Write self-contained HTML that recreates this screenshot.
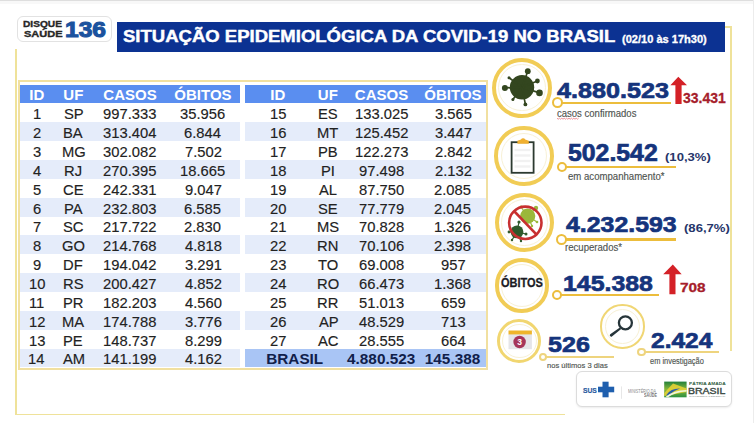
<!DOCTYPE html><html><head><meta charset="utf-8"><style>
html,body{margin:0;padding:0;width:754px;height:423px;overflow:hidden;background:#fff;position:relative}
.t{position:absolute;white-space:nowrap;line-height:1;font-family:"Liberation Sans",sans-serif;transform-origin:0 0}
</style></head><body>
<div style="position:absolute;left:0.00px;top:0.00px;width:754.00px;height:1.00px;background:#dedede"></div>
<div style="position:absolute;left:0.00px;top:1.00px;width:754.00px;height:3.00px;background:#f8f8f8"></div>
<div style="position:absolute;left:752.50px;top:0.00px;width:1.50px;height:423.00px;background:#ececec"></div>
<div style="position:absolute;left:15.00px;top:49.00px;width:2.00px;height:366.00px;background:#efe29a"></div>
<div style="position:absolute;left:15.00px;top:413.50px;width:550.00px;height:1.60px;background:#efe29a"></div>
<div style="position:absolute;left:730.00px;top:26.00px;width:1.80px;height:325.00px;background:#efe29a"></div>
<div style="position:absolute;left:724.00px;top:26.00px;width:7.50px;height:1.60px;background:#efe29a"></div>
<div style="position:absolute;left:17.00px;top:15.50px;width:95.00px;height:26.00px;border:1px solid #e2e2e2;border-radius:6px;box-sizing:border-box;background:#fff"></div>
<div class="t" style="left:23.34px;top:19.00px;font-size:9.43px;font-weight:bold;color:#262626;transform:scaleX(1.0777);-webkit-text-stroke:0.35px #262626;">DISQUE</div>
<div class="t" style="left:23.67px;top:29.00px;font-size:9.43px;font-weight:bold;color:#262626;transform:scaleX(1.1702);-webkit-text-stroke:0.35px #262626;">SAÚDE</div>
<div class="t" style="left:64.92px;top:18.00px;font-size:22.86px;font-weight:bold;color:#1b529e;transform:scaleX(1.0756);-webkit-text-stroke:1.1px #1b529e;">136</div>
<div style="position:absolute;left:117.00px;top:22.00px;width:608.00px;height:30.00px;background:#0c3292"></div>
<div class="t" style="left:122.84px;top:28.00px;font-size:17.14px;font-weight:bold;color:#fff;transform:scaleX(1.0809);-webkit-text-stroke:0.45px #fff;">SITUAÇÃO EPIDEMIOLÓGICA DA COVID-19 NO BRASIL</div>
<div class="t" style="left:621.75px;top:35.00px;font-size:10.00px;font-weight:bold;color:#fff;transform:scaleX(1.1050);-webkit-text-stroke:0.3px #fff;">(02/10 às 17h30)</div>
<div style="position:absolute;left:17.50px;top:80.00px;width:470.00px;height:290.00px;border:2px solid #f1e0a0;box-sizing:border-box;background:#fff"></div>
<div style="position:absolute;left:20.00px;top:85.00px;width:220.00px;height:18.40px;background:#5a8ef0"></div>
<div style="position:absolute;left:245.00px;top:85.00px;width:241.00px;height:18.40px;background:#5a8ef0"></div>
<div style="position:absolute;left:20.00px;top:122.26px;width:220.00px;height:18.86px;background:#e5ecfa"></div>
<div style="position:absolute;left:245.00px;top:122.26px;width:241.00px;height:18.86px;background:#e5ecfa"></div>
<div style="position:absolute;left:20.00px;top:159.98px;width:220.00px;height:18.86px;background:#e5ecfa"></div>
<div style="position:absolute;left:245.00px;top:159.98px;width:241.00px;height:18.86px;background:#e5ecfa"></div>
<div style="position:absolute;left:20.00px;top:197.70px;width:220.00px;height:18.86px;background:#e5ecfa"></div>
<div style="position:absolute;left:245.00px;top:197.70px;width:241.00px;height:18.86px;background:#e5ecfa"></div>
<div style="position:absolute;left:20.00px;top:235.42px;width:220.00px;height:18.86px;background:#e5ecfa"></div>
<div style="position:absolute;left:245.00px;top:235.42px;width:241.00px;height:18.86px;background:#e5ecfa"></div>
<div style="position:absolute;left:20.00px;top:273.14px;width:220.00px;height:18.86px;background:#e5ecfa"></div>
<div style="position:absolute;left:245.00px;top:273.14px;width:241.00px;height:18.86px;background:#e5ecfa"></div>
<div style="position:absolute;left:20.00px;top:310.86px;width:220.00px;height:18.86px;background:#e5ecfa"></div>
<div style="position:absolute;left:245.00px;top:310.86px;width:241.00px;height:18.86px;background:#e5ecfa"></div>
<div style="position:absolute;left:20.00px;top:348.58px;width:220.00px;height:18.86px;background:#e5ecfa"></div>
<div style="position:absolute;left:245.00px;top:348.58px;width:241.00px;height:18.86px;background:#a9c5f5"></div>
<div class="t" style="left:32.68px;top:106.00px;font-size:15.30px;font-weight:normal;color:#222;transform:scaleX(0.965);-webkit-text-stroke:0.15px #222;">1</div>
<div class="t" style="left:63.72px;top:106.00px;font-size:15.30px;font-weight:normal;color:#222;transform:scaleX(0.965);-webkit-text-stroke:0.15px #222;">SP</div>
<div class="t" style="left:103.28px;top:106.00px;font-size:15.30px;font-weight:normal;color:#222;transform:scaleX(0.965);-webkit-text-stroke:0.15px #222;">997.333</div>
<div class="t" style="left:180.41px;top:106.00px;font-size:15.30px;font-weight:normal;color:#222;transform:scaleX(0.965);-webkit-text-stroke:0.15px #222;">35.956</div>
<div class="t" style="left:32.90px;top:125.00px;font-size:15.30px;font-weight:normal;color:#222;transform:scaleX(0.965);-webkit-text-stroke:0.15px #222;">2</div>
<div class="t" style="left:63.09px;top:125.00px;font-size:15.30px;font-weight:normal;color:#222;transform:scaleX(0.965);-webkit-text-stroke:0.15px #222;">BA</div>
<div class="t" style="left:103.24px;top:125.00px;font-size:15.30px;font-weight:normal;color:#222;transform:scaleX(0.965);-webkit-text-stroke:0.15px #222;">313.404</div>
<div class="t" style="left:184.40px;top:125.00px;font-size:15.30px;font-weight:normal;color:#222;transform:scaleX(0.965);-webkit-text-stroke:0.15px #222;">6.844</div>
<div class="t" style="left:32.90px;top:144.00px;font-size:15.30px;font-weight:normal;color:#222;transform:scaleX(0.965);-webkit-text-stroke:0.15px #222;">3</div>
<div class="t" style="left:61.54px;top:144.00px;font-size:15.30px;font-weight:normal;color:#222;transform:scaleX(0.965);-webkit-text-stroke:0.15px #222;">MG</div>
<div class="t" style="left:103.39px;top:144.00px;font-size:15.30px;font-weight:normal;color:#222;transform:scaleX(0.965);-webkit-text-stroke:0.15px #222;">302.082</div>
<div class="t" style="left:184.54px;top:144.00px;font-size:15.30px;font-weight:normal;color:#222;transform:scaleX(0.965);-webkit-text-stroke:0.15px #222;">7.502</div>
<div class="t" style="left:32.98px;top:163.00px;font-size:15.30px;font-weight:normal;color:#222;transform:scaleX(0.965);-webkit-text-stroke:0.15px #222;">4</div>
<div class="t" style="left:64.46px;top:163.00px;font-size:15.30px;font-weight:normal;color:#222;transform:scaleX(0.965);-webkit-text-stroke:0.15px #222;">RJ</div>
<div class="t" style="left:103.24px;top:163.00px;font-size:15.30px;font-weight:normal;color:#222;transform:scaleX(0.965);-webkit-text-stroke:0.15px #222;">270.395</div>
<div class="t" style="left:180.15px;top:163.00px;font-size:15.30px;font-weight:normal;color:#222;transform:scaleX(0.965);-webkit-text-stroke:0.15px #222;">18.665</div>
<div class="t" style="left:32.90px;top:182.00px;font-size:15.30px;font-weight:normal;color:#222;transform:scaleX(0.965);-webkit-text-stroke:0.15px #222;">5</div>
<div class="t" style="left:63.20px;top:182.00px;font-size:15.30px;font-weight:normal;color:#222;transform:scaleX(0.965);-webkit-text-stroke:0.15px #222;">CE</div>
<div class="t" style="left:103.28px;top:182.00px;font-size:15.30px;font-weight:normal;color:#222;transform:scaleX(0.965);-webkit-text-stroke:0.15px #222;">242.331</div>
<div class="t" style="left:184.58px;top:182.00px;font-size:15.30px;font-weight:normal;color:#222;transform:scaleX(0.965);-webkit-text-stroke:0.15px #222;">9.047</div>
<div class="t" style="left:32.83px;top:201.00px;font-size:15.30px;font-weight:normal;color:#222;transform:scaleX(0.965);-webkit-text-stroke:0.15px #222;">6</div>
<div class="t" style="left:63.61px;top:201.00px;font-size:15.30px;font-weight:normal;color:#222;transform:scaleX(0.965);-webkit-text-stroke:0.15px #222;">PA</div>
<div class="t" style="left:103.24px;top:201.00px;font-size:15.30px;font-weight:normal;color:#222;transform:scaleX(0.965);-webkit-text-stroke:0.15px #222;">232.803</div>
<div class="t" style="left:184.47px;top:201.00px;font-size:15.30px;font-weight:normal;color:#222;transform:scaleX(0.965);-webkit-text-stroke:0.15px #222;">6.585</div>
<div class="t" style="left:32.90px;top:219.00px;font-size:15.30px;font-weight:normal;color:#222;transform:scaleX(0.965);-webkit-text-stroke:0.15px #222;">7</div>
<div class="t" style="left:63.20px;top:219.00px;font-size:15.30px;font-weight:normal;color:#222;transform:scaleX(0.965);-webkit-text-stroke:0.15px #222;">SC</div>
<div class="t" style="left:103.31px;top:219.00px;font-size:15.30px;font-weight:normal;color:#222;transform:scaleX(0.965);-webkit-text-stroke:0.15px #222;">217.722</div>
<div class="t" style="left:184.43px;top:219.00px;font-size:15.30px;font-weight:normal;color:#222;transform:scaleX(0.965);-webkit-text-stroke:0.15px #222;">2.830</div>
<div class="t" style="left:32.87px;top:238.00px;font-size:15.30px;font-weight:normal;color:#222;transform:scaleX(0.965);-webkit-text-stroke:0.15px #222;">8</div>
<div class="t" style="left:61.98px;top:238.00px;font-size:15.30px;font-weight:normal;color:#222;transform:scaleX(0.965);-webkit-text-stroke:0.15px #222;">GO</div>
<div class="t" style="left:103.24px;top:238.00px;font-size:15.30px;font-weight:normal;color:#222;transform:scaleX(0.965);-webkit-text-stroke:0.15px #222;">214.768</div>
<div class="t" style="left:184.69px;top:238.00px;font-size:15.30px;font-weight:normal;color:#222;transform:scaleX(0.965);-webkit-text-stroke:0.15px #222;">4.818</div>
<div class="t" style="left:32.90px;top:257.00px;font-size:15.30px;font-weight:normal;color:#222;transform:scaleX(0.965);-webkit-text-stroke:0.15px #222;">9</div>
<div class="t" style="left:63.39px;top:257.00px;font-size:15.30px;font-weight:normal;color:#222;transform:scaleX(0.965);-webkit-text-stroke:0.15px #222;">DF</div>
<div class="t" style="left:103.13px;top:257.00px;font-size:15.30px;font-weight:normal;color:#222;transform:scaleX(0.965);-webkit-text-stroke:0.15px #222;">194.042</div>
<div class="t" style="left:184.58px;top:257.00px;font-size:15.30px;font-weight:normal;color:#222;transform:scaleX(0.965);-webkit-text-stroke:0.15px #222;">3.291</div>
<div class="t" style="left:28.51px;top:276.00px;font-size:15.30px;font-weight:normal;color:#222;transform:scaleX(0.965);-webkit-text-stroke:0.15px #222;">10</div>
<div class="t" style="left:63.02px;top:276.00px;font-size:15.30px;font-weight:normal;color:#222;transform:scaleX(0.965);-webkit-text-stroke:0.15px #222;">RS</div>
<div class="t" style="left:103.31px;top:276.00px;font-size:15.30px;font-weight:normal;color:#222;transform:scaleX(0.965);-webkit-text-stroke:0.15px #222;">200.427</div>
<div class="t" style="left:184.77px;top:276.00px;font-size:15.30px;font-weight:normal;color:#222;transform:scaleX(0.965);-webkit-text-stroke:0.15px #222;">4.852</div>
<div class="t" style="left:29.14px;top:295.00px;font-size:15.30px;font-weight:normal;color:#222;transform:scaleX(0.965);-webkit-text-stroke:0.15px #222;">11</div>
<div class="t" style="left:63.02px;top:295.00px;font-size:15.30px;font-weight:normal;color:#222;transform:scaleX(0.965);-webkit-text-stroke:0.15px #222;">PR</div>
<div class="t" style="left:103.05px;top:295.00px;font-size:15.30px;font-weight:normal;color:#222;transform:scaleX(0.965);-webkit-text-stroke:0.15px #222;">182.203</div>
<div class="t" style="left:184.66px;top:295.00px;font-size:15.30px;font-weight:normal;color:#222;transform:scaleX(0.965);-webkit-text-stroke:0.15px #222;">4.560</div>
<div class="t" style="left:28.62px;top:314.00px;font-size:15.30px;font-weight:normal;color:#222;transform:scaleX(0.965);-webkit-text-stroke:0.15px #222;">12</div>
<div class="t" style="left:61.84px;top:314.00px;font-size:15.30px;font-weight:normal;color:#222;transform:scaleX(0.965);-webkit-text-stroke:0.15px #222;">MA</div>
<div class="t" style="left:103.05px;top:314.00px;font-size:15.30px;font-weight:normal;color:#222;transform:scaleX(0.965);-webkit-text-stroke:0.15px #222;">174.788</div>
<div class="t" style="left:184.54px;top:314.00px;font-size:15.30px;font-weight:normal;color:#222;transform:scaleX(0.965);-webkit-text-stroke:0.15px #222;">3.776</div>
<div class="t" style="left:28.55px;top:333.00px;font-size:15.30px;font-weight:normal;color:#222;transform:scaleX(0.965);-webkit-text-stroke:0.15px #222;">13</div>
<div class="t" style="left:63.39px;top:333.00px;font-size:15.30px;font-weight:normal;color:#222;transform:scaleX(0.965);-webkit-text-stroke:0.15px #222;">PE</div>
<div class="t" style="left:103.13px;top:333.00px;font-size:15.30px;font-weight:normal;color:#222;transform:scaleX(0.965);-webkit-text-stroke:0.15px #222;">148.737</div>
<div class="t" style="left:184.54px;top:333.00px;font-size:15.30px;font-weight:normal;color:#222;transform:scaleX(0.965);-webkit-text-stroke:0.15px #222;">8.299</div>
<div class="t" style="left:28.47px;top:351.00px;font-size:15.30px;font-weight:normal;color:#222;transform:scaleX(0.965);-webkit-text-stroke:0.15px #222;">14</div>
<div class="t" style="left:63.05px;top:351.00px;font-size:15.30px;font-weight:normal;color:#222;transform:scaleX(0.965);-webkit-text-stroke:0.15px #222;">AM</div>
<div class="t" style="left:103.09px;top:351.00px;font-size:15.30px;font-weight:normal;color:#222;transform:scaleX(0.965);-webkit-text-stroke:0.15px #222;">141.199</div>
<div class="t" style="left:184.77px;top:351.00px;font-size:15.30px;font-weight:normal;color:#222;transform:scaleX(0.965);-webkit-text-stroke:0.15px #222;">4.162</div>
<div class="t" style="left:269.55px;top:106.00px;font-size:15.30px;font-weight:normal;color:#222;transform:scaleX(0.965);-webkit-text-stroke:0.15px #222;">15</div>
<div class="t" style="left:317.92px;top:106.00px;font-size:15.30px;font-weight:normal;color:#222;transform:scaleX(0.965);-webkit-text-stroke:0.15px #222;">ES</div>
<div class="t" style="left:354.55px;top:106.00px;font-size:15.30px;font-weight:normal;color:#222;transform:scaleX(0.965);-webkit-text-stroke:0.15px #222;">133.025</div>
<div class="t" style="left:434.54px;top:106.00px;font-size:15.30px;font-weight:normal;color:#222;transform:scaleX(0.965);-webkit-text-stroke:0.15px #222;">3.565</div>
<div class="t" style="left:269.55px;top:125.00px;font-size:15.30px;font-weight:normal;color:#222;transform:scaleX(0.965);-webkit-text-stroke:0.15px #222;">16</div>
<div class="t" style="left:316.89px;top:125.00px;font-size:15.30px;font-weight:normal;color:#222;transform:scaleX(0.965);-webkit-text-stroke:0.15px #222;">MT</div>
<div class="t" style="left:354.63px;top:125.00px;font-size:15.30px;font-weight:normal;color:#222;transform:scaleX(0.965);-webkit-text-stroke:0.15px #222;">125.452</div>
<div class="t" style="left:434.62px;top:125.00px;font-size:15.30px;font-weight:normal;color:#222;transform:scaleX(0.965);-webkit-text-stroke:0.15px #222;">3.447</div>
<div class="t" style="left:269.62px;top:144.00px;font-size:15.30px;font-weight:normal;color:#222;transform:scaleX(0.965);-webkit-text-stroke:0.15px #222;">17</div>
<div class="t" style="left:317.96px;top:144.00px;font-size:15.30px;font-weight:normal;color:#222;transform:scaleX(0.965);-webkit-text-stroke:0.15px #222;">PB</div>
<div class="t" style="left:354.55px;top:144.00px;font-size:15.30px;font-weight:normal;color:#222;transform:scaleX(0.965);-webkit-text-stroke:0.15px #222;">122.273</div>
<div class="t" style="left:434.54px;top:144.00px;font-size:15.30px;font-weight:normal;color:#222;transform:scaleX(0.965);-webkit-text-stroke:0.15px #222;">2.842</div>
<div class="t" style="left:269.55px;top:163.00px;font-size:15.30px;font-weight:normal;color:#222;transform:scaleX(0.965);-webkit-text-stroke:0.15px #222;">18</div>
<div class="t" style="left:321.13px;top:163.00px;font-size:15.30px;font-weight:normal;color:#222;transform:scaleX(0.965);-webkit-text-stroke:0.15px #222;">PI</div>
<div class="t" style="left:358.87px;top:163.00px;font-size:15.30px;font-weight:normal;color:#222;transform:scaleX(0.965);-webkit-text-stroke:0.15px #222;">97.498</div>
<div class="t" style="left:434.54px;top:163.00px;font-size:15.30px;font-weight:normal;color:#222;transform:scaleX(0.965);-webkit-text-stroke:0.15px #222;">2.132</div>
<div class="t" style="left:269.58px;top:182.00px;font-size:15.30px;font-weight:normal;color:#222;transform:scaleX(0.965);-webkit-text-stroke:0.15px #222;">19</div>
<div class="t" style="left:319.22px;top:182.00px;font-size:15.30px;font-weight:normal;color:#222;transform:scaleX(0.965);-webkit-text-stroke:0.15px #222;">AL</div>
<div class="t" style="left:358.84px;top:182.00px;font-size:15.30px;font-weight:normal;color:#222;transform:scaleX(0.965);-webkit-text-stroke:0.15px #222;">87.750</div>
<div class="t" style="left:434.47px;top:182.00px;font-size:15.30px;font-weight:normal;color:#222;transform:scaleX(0.965);-webkit-text-stroke:0.15px #222;">2.085</div>
<div class="t" style="left:269.69px;top:201.00px;font-size:15.30px;font-weight:normal;color:#222;transform:scaleX(0.965);-webkit-text-stroke:0.15px #222;">20</div>
<div class="t" style="left:318.14px;top:201.00px;font-size:15.30px;font-weight:normal;color:#222;transform:scaleX(0.965);-webkit-text-stroke:0.15px #222;">SE</div>
<div class="t" style="left:358.87px;top:201.00px;font-size:15.30px;font-weight:normal;color:#222;transform:scaleX(0.965);-webkit-text-stroke:0.15px #222;">77.779</div>
<div class="t" style="left:434.47px;top:201.00px;font-size:15.30px;font-weight:normal;color:#222;transform:scaleX(0.965);-webkit-text-stroke:0.15px #222;">2.045</div>
<div class="t" style="left:269.77px;top:219.00px;font-size:15.30px;font-weight:normal;color:#222;transform:scaleX(0.965);-webkit-text-stroke:0.15px #222;">21</div>
<div class="t" style="left:316.67px;top:219.00px;font-size:15.30px;font-weight:normal;color:#222;transform:scaleX(0.965);-webkit-text-stroke:0.15px #222;">MS</div>
<div class="t" style="left:358.84px;top:219.00px;font-size:15.30px;font-weight:normal;color:#222;transform:scaleX(0.965);-webkit-text-stroke:0.15px #222;">70.828</div>
<div class="t" style="left:434.29px;top:219.00px;font-size:15.30px;font-weight:normal;color:#222;transform:scaleX(0.965);-webkit-text-stroke:0.15px #222;">1.326</div>
<div class="t" style="left:269.81px;top:238.00px;font-size:15.30px;font-weight:normal;color:#222;transform:scaleX(0.965);-webkit-text-stroke:0.15px #222;">22</div>
<div class="t" style="left:317.37px;top:238.00px;font-size:15.30px;font-weight:normal;color:#222;transform:scaleX(0.965);-webkit-text-stroke:0.15px #222;">RN</div>
<div class="t" style="left:358.84px;top:238.00px;font-size:15.30px;font-weight:normal;color:#222;transform:scaleX(0.965);-webkit-text-stroke:0.15px #222;">70.106</div>
<div class="t" style="left:434.47px;top:238.00px;font-size:15.30px;font-weight:normal;color:#222;transform:scaleX(0.965);-webkit-text-stroke:0.15px #222;">2.398</div>
<div class="t" style="left:269.73px;top:257.00px;font-size:15.30px;font-weight:normal;color:#222;transform:scaleX(0.965);-webkit-text-stroke:0.15px #222;">23</div>
<div class="t" style="left:318.07px;top:257.00px;font-size:15.30px;font-weight:normal;color:#222;transform:scaleX(0.965);-webkit-text-stroke:0.15px #222;">TO</div>
<div class="t" style="left:358.84px;top:257.00px;font-size:15.30px;font-weight:normal;color:#222;transform:scaleX(0.965);-webkit-text-stroke:0.15px #222;">69.008</div>
<div class="t" style="left:440.75px;top:257.00px;font-size:15.30px;font-weight:normal;color:#222;transform:scaleX(0.965);-webkit-text-stroke:0.15px #222;">957</div>
<div class="t" style="left:269.66px;top:276.00px;font-size:15.30px;font-weight:normal;color:#222;transform:scaleX(0.965);-webkit-text-stroke:0.15px #222;">24</div>
<div class="t" style="left:316.71px;top:276.00px;font-size:15.30px;font-weight:normal;color:#222;transform:scaleX(0.965);-webkit-text-stroke:0.15px #222;">RO</div>
<div class="t" style="left:358.84px;top:276.00px;font-size:15.30px;font-weight:normal;color:#222;transform:scaleX(0.965);-webkit-text-stroke:0.15px #222;">66.473</div>
<div class="t" style="left:434.29px;top:276.00px;font-size:15.30px;font-weight:normal;color:#222;transform:scaleX(0.965);-webkit-text-stroke:0.15px #222;">1.368</div>
<div class="t" style="left:269.73px;top:295.00px;font-size:15.30px;font-weight:normal;color:#222;transform:scaleX(0.965);-webkit-text-stroke:0.15px #222;">25</div>
<div class="t" style="left:317.11px;top:295.00px;font-size:15.30px;font-weight:normal;color:#222;transform:scaleX(0.965);-webkit-text-stroke:0.15px #222;">RR</div>
<div class="t" style="left:358.91px;top:295.00px;font-size:15.30px;font-weight:normal;color:#222;transform:scaleX(0.965);-webkit-text-stroke:0.15px #222;">51.013</div>
<div class="t" style="left:440.67px;top:295.00px;font-size:15.30px;font-weight:normal;color:#222;transform:scaleX(0.965);-webkit-text-stroke:0.15px #222;">659</div>
<div class="t" style="left:269.73px;top:314.00px;font-size:15.30px;font-weight:normal;color:#222;transform:scaleX(0.965);-webkit-text-stroke:0.15px #222;">26</div>
<div class="t" style="left:318.55px;top:314.00px;font-size:15.30px;font-weight:normal;color:#222;transform:scaleX(0.965);-webkit-text-stroke:0.15px #222;">AP</div>
<div class="t" style="left:359.09px;top:314.00px;font-size:15.30px;font-weight:normal;color:#222;transform:scaleX(0.965);-webkit-text-stroke:0.15px #222;">48.529</div>
<div class="t" style="left:440.63px;top:314.00px;font-size:15.30px;font-weight:normal;color:#222;transform:scaleX(0.965);-webkit-text-stroke:0.15px #222;">713</div>
<div class="t" style="left:269.81px;top:333.00px;font-size:15.30px;font-weight:normal;color:#222;transform:scaleX(0.965);-webkit-text-stroke:0.15px #222;">27</div>
<div class="t" style="left:318.03px;top:333.00px;font-size:15.30px;font-weight:normal;color:#222;transform:scaleX(0.965);-webkit-text-stroke:0.15px #222;">AC</div>
<div class="t" style="left:358.84px;top:333.00px;font-size:15.30px;font-weight:normal;color:#222;transform:scaleX(0.965);-webkit-text-stroke:0.15px #222;">28.555</div>
<div class="t" style="left:440.56px;top:333.00px;font-size:15.30px;font-weight:normal;color:#222;transform:scaleX(0.965);-webkit-text-stroke:0.15px #222;">664</div>
<div class="t" style="left:266.27px;top:351.00px;font-size:15.30px;font-weight:bold;color:#10204a;">BRASIL</div>
<div class="t" style="left:347.11px;top:351.00px;font-size:15.30px;font-weight:bold;color:#10204a;">4.880.523</div>
<div class="t" style="left:424.87px;top:351.00px;font-size:15.30px;font-weight:bold;color:#10204a;">145.388</div>
<div class="t" style="left:29.31px;top:87.00px;font-size:15.00px;font-weight:bold;color:#fff;">ID</div>
<div class="t" style="left:63.34px;top:87.00px;font-size:15.00px;font-weight:bold;color:#fff;">UF</div>
<div class="t" style="left:103.30px;top:87.00px;font-size:15.00px;font-weight:bold;color:#fff;">CASOS</div>
<div class="t" style="left:174.35px;top:87.00px;font-size:15.00px;font-weight:bold;color:#fff;">ÓBITOS</div>
<div class="t" style="left:270.31px;top:87.00px;font-size:15.00px;font-weight:bold;color:#fff;">ID</div>
<div class="t" style="left:317.84px;top:87.00px;font-size:15.00px;font-weight:bold;color:#fff;">UF</div>
<div class="t" style="left:354.80px;top:87.00px;font-size:15.00px;font-weight:bold;color:#fff;">CASOS</div>
<div class="t" style="left:424.35px;top:87.00px;font-size:15.00px;font-weight:bold;color:#fff;">ÓBITOS</div>
<div style="position:absolute;left:492.00px;top:57.70px;width:60.00px;height:60.00px;border:4.8px solid #f1cc55;border-radius:50%;box-sizing:border-box;background:#fff;"></div>
<div style="position:absolute;left:498.40px;top:64.10px;width:47.20px;height:47.20px;border:1px solid #f8f1d6;border-radius:50%;box-sizing:border-box;"></div>
<div style="position:absolute;left:494.25px;top:126.25px;width:59.50px;height:59.50px;border:4.8px solid #f1cc55;border-radius:50%;box-sizing:border-box;background:#fff;"></div>
<div style="position:absolute;left:500.65px;top:132.65px;width:46.70px;height:46.70px;border:1px solid #f8f1d6;border-radius:50%;box-sizing:border-box;"></div>
<div style="position:absolute;left:495.20px;top:193.00px;width:59.00px;height:59.00px;border:4.6px solid #f1cc55;border-radius:50%;box-sizing:border-box;background:#fff;"></div>
<div style="position:absolute;left:501.40px;top:199.20px;width:46.60px;height:46.60px;border:1px solid #f8f1d6;border-radius:50%;box-sizing:border-box;"></div>
<div style="position:absolute;left:494.55px;top:258.25px;width:54.50px;height:54.50px;border:4.4px solid #f1cc55;border-radius:50%;box-sizing:border-box;background:#fff;"></div>
<div style="position:absolute;left:500.55px;top:264.25px;width:42.50px;height:42.50px;border:1px solid #f8f1d6;border-radius:50%;box-sizing:border-box;"></div>
<div style="position:absolute;left:497.20px;top:319.00px;width:44.00px;height:44.00px;border:3px solid #f1d670;border-radius:50%;box-sizing:border-box;background:#fff;"></div>
<div style="position:absolute;left:501.80px;top:323.60px;width:34.80px;height:34.80px;border:1px solid #f8f1d6;border-radius:50%;box-sizing:border-box;"></div>
<div style="position:absolute;left:600.35px;top:304.35px;width:44.30px;height:44.30px;border:2.9px solid #f0d674;border-radius:50%;box-sizing:border-box;background:#fff;"></div>
<div style="position:absolute;left:604.85px;top:308.85px;width:35.30px;height:35.30px;border:1px solid #f8f1d6;border-radius:50%;box-sizing:border-box;"></div>
<div style="position:absolute;left:557.70px;top:101.60px;width:113.80px;height:2.60px;background:#ecbd3c"></div>
<div style="position:absolute;left:552.20px;top:97.40px;width:11.00px;height:11.00px;border:2.5px solid #ecbd3c;border-radius:50%;box-sizing:border-box;background:#fff"></div>
<div style="position:absolute;left:562.00px;top:165.50px;width:114.20px;height:2.60px;background:#ecbd3c"></div>
<div style="position:absolute;left:556.80px;top:161.60px;width:10.40px;height:10.40px;border:2.5px solid #ecbd3c;border-radius:50%;box-sizing:border-box;background:#fff"></div>
<div style="position:absolute;left:561.60px;top:238.00px;width:114.70px;height:2.60px;background:#ecbd3c"></div>
<div style="position:absolute;left:556.10px;top:233.80px;width:11.00px;height:11.00px;border:2.5px solid #ecbd3c;border-radius:50%;box-sizing:border-box;background:#fff"></div>
<div style="position:absolute;left:557.20px;top:293.50px;width:101.80px;height:2.20px;background:#ecbd3c"></div>
<div style="position:absolute;left:552.20px;top:289.60px;width:10.00px;height:10.00px;border:2.3px solid #ecbd3c;border-radius:50%;box-sizing:border-box;background:#fff"></div>
<div style="position:absolute;left:543.10px;top:356.30px;width:70.70px;height:2.00px;background:#eed47e"></div>
<div style="position:absolute;left:538.90px;top:353.10px;width:8.40px;height:8.40px;border:2.2px solid #eed47e;border-radius:50%;box-sizing:border-box;background:#fff"></div>
<div style="position:absolute;left:641.40px;top:351.20px;width:78.10px;height:2.00px;background:#eed47e"></div>
<div style="position:absolute;left:637.20px;top:348.00px;width:8.40px;height:8.40px;border:2.2px solid #eed47e;border-radius:50%;box-sizing:border-box;background:#fff"></div>
<div class="t" style="left:557.02px;top:80.00px;font-size:22.43px;font-weight:bold;color:#15347c;transform:scaleX(1.1217);-webkit-text-stroke:0.7px #15347c;">4.880.523</div>
<div class="t" style="left:568.46px;top:142.00px;font-size:23.00px;font-weight:bold;color:#15347c;transform:scaleX(1.0793);-webkit-text-stroke:0.7px #15347c;">502.542</div>
<div class="t" style="left:566.23px;top:213.00px;font-size:22.71px;font-weight:bold;color:#15347c;transform:scaleX(1.0956);-webkit-text-stroke:0.7px #15347c;">4.232.593</div>
<div class="t" style="left:562.71px;top:272.00px;font-size:22.71px;font-weight:bold;color:#15347c;transform:scaleX(1.0953);-webkit-text-stroke:0.7px #15347c;">145.388</div>
<div class="t" style="left:548.05px;top:333.00px;font-size:22.86px;font-weight:bold;color:#15347c;transform:scaleX(1.0965);-webkit-text-stroke:0.7px #15347c;">526</div>
<div class="t" style="left:651.24px;top:329.00px;font-size:22.71px;font-weight:bold;color:#15347c;transform:scaleX(1.0809);-webkit-text-stroke:0.7px #15347c;">2.424</div>
<div class="t" style="left:664.65px;top:152.00px;font-size:11.14px;font-weight:bold;color:#26356a;transform:scaleX(1.1755);">(10,3%)</div>
<div class="t" style="left:683.85px;top:222.00px;font-size:11.71px;font-weight:bold;color:#26356a;transform:scaleX(1.1182);">(86,7%)</div>
<div class="t" style="left:683.25px;top:91.00px;font-size:14.86px;font-weight:bold;color:#a61d2b;transform:scaleX(0.9392);-webkit-text-stroke:0.3px #a61d2b;">33.431</div>
<div class="t" style="left:680.39px;top:282.00px;font-size:12.86px;font-weight:bold;color:#a61d2b;transform:scaleX(1.1947);-webkit-text-stroke:0.3px #a61d2b;">708</div>
<div class="t" style="left:556.82px;top:109.00px;font-size:10.19px;font-weight:normal;color:#4f5551;transform:scaleX(0.9363);-webkit-text-stroke:0.15px #4f5551;">casos confirmados</div>
<div class="t" style="left:567.62px;top:172.00px;font-size:10.19px;font-weight:normal;color:#4f5551;transform:scaleX(0.9432);-webkit-text-stroke:0.15px #4f5551;">em acompanhamento*</div>
<div class="t" style="left:565.48px;top:243.00px;font-size:10.00px;font-weight:normal;color:#4f5551;transform:scaleX(0.9591);-webkit-text-stroke:0.15px #4f5551;">recuperados*</div>
<div class="t" style="left:547.01px;top:362.00px;font-size:7.92px;font-weight:normal;color:#4f5551;transform:scaleX(0.9594);-webkit-text-stroke:0.15px #4f5551;">nos últimos 3 dias</div>
<div class="t" style="left:650.40px;top:357.00px;font-size:9.06px;font-weight:normal;color:#4f5551;transform:scaleX(0.8237);-webkit-text-stroke:0.15px #4f5551;">em investigação</div>
<div class="t" style="left:500.76px;top:277.00px;font-size:12.86px;font-weight:bold;color:#1b1b24;transform:scaleX(0.8526);-webkit-text-stroke:0.3px #1b1b24;">ÓBITOS</div>
<svg style="position:absolute;left:0;top:0" width="754" height="423" viewBox="0 0 754 423"><circle cx="522" cy="87.3" r="12.2" fill="#33461f"/><line x1="522" y1="87.3" x2="527.8" y2="71.2" stroke="#33461f" stroke-width="1.7"/><circle cx="527.8" cy="71.2" r="2.9" fill="#33461f"/><line x1="522" y1="87.3" x2="509" y2="77.8" stroke="#33461f" stroke-width="1.7"/><circle cx="509" cy="77.8" r="1.5" fill="#33461f"/><line x1="522" y1="87.3" x2="504.9" y2="87.9" stroke="#33461f" stroke-width="1.7"/><circle cx="504.9" cy="87.9" r="3.0" fill="#33461f"/><line x1="522" y1="87.3" x2="537.4" y2="81" stroke="#33461f" stroke-width="1.7"/><circle cx="537.4" cy="81" r="2.4" fill="#33461f"/><line x1="522" y1="87.3" x2="539.5" y2="92.9" stroke="#33461f" stroke-width="1.7"/><circle cx="539.5" cy="92.9" r="3.3" fill="#33461f"/><line x1="522" y1="87.3" x2="525.4" y2="104.4" stroke="#33461f" stroke-width="1.7"/><circle cx="525.4" cy="104.4" r="1.9" fill="#33461f"/><line x1="522" y1="87.3" x2="512.9" y2="99.6" stroke="#33461f" stroke-width="1.7"/><circle cx="512.9" cy="99.6" r="1.5" fill="#33461f"/><path d="M557 118.2 l1.2 1 l1.2 -1 l1.2 1 l1.2 -1 l1.2 1 l1.2 -1 l1.2 1 l1.2 -1 l1.2 1 l1.2 -1 l1.2 1 l1.2 -1 l1.2 1 l1.2 -1 l1.2 1 l1.2 -1 l1.2 1 l1.2 -1" fill="none" stroke="#e0606a" stroke-width="0.7"/><path d="M678.3 76.8 L687 85.3 L681.6 85.3 L681.6 104 L675.4 104 L675.4 85.3 L670.4 85.3 Z" fill="#d42127"/><path d="M672.8 264.4 L681.7 274.3 L675.5 274.3 L675.5 294.2 L669.4 294.2 L669.4 274.3 L663.2 274.3 Z" fill="#d42127"/><rect x="511.6" y="142.2" width="22" height="30.6" fill="#fff" stroke="#2c3a30" stroke-width="1.8"/><line x1="514.5" y1="150" x2="530.5" y2="150" stroke="#f1f1f1" stroke-width="2.4"/><line x1="514.5" y1="155.5" x2="530.5" y2="155.5" stroke="#f1f1f1" stroke-width="2.4"/><line x1="514.5" y1="161" x2="530.5" y2="161" stroke="#f1f1f1" stroke-width="2.4"/><line x1="514.5" y1="166.5" x2="530.5" y2="166.5" stroke="#f1f1f1" stroke-width="2.4"/><path d="M517.4 143.8 L528.8 143.8 L528.8 140.8 L525.2 139.6 A2.3 2.3 0 0 0 521 139.6 L517.4 140.8 Z" fill="#f0b030"/><circle cx="527.7" cy="216.1" r="7.6" fill="#9bb83b"/><line x1="527.7" y1="216.1" x2="536" y2="208" stroke="#9bb83b" stroke-width="1.2"/><circle cx="536" cy="208" r="2.2" fill="#9bb83b"/><line x1="527.7" y1="216.1" x2="521" y2="207" stroke="#9bb83b" stroke-width="1.2"/><circle cx="521" cy="207" r="1.4" fill="#9bb83b"/><line x1="527.7" y1="216.1" x2="537" y2="222" stroke="#9bb83b" stroke-width="1.2"/><circle cx="537" cy="222" r="1.3" fill="#9bb83b"/><line x1="527.7" y1="216.1" x2="532" y2="226" stroke="#9bb83b" stroke-width="1.2"/><circle cx="532" cy="226" r="1.2" fill="#9bb83b"/><circle cx="517" cy="231.9" r="6.4" fill="#2f5a2c"/><line x1="517" y1="231.9" x2="509" y2="232" stroke="#2f5a2c" stroke-width="1.2"/><circle cx="509" cy="232" r="1.4" fill="#2f5a2c"/><line x1="517" y1="231.9" x2="519" y2="222" stroke="#2f5a2c" stroke-width="1.2"/><circle cx="519" cy="222" r="1.6" fill="#2f5a2c"/><line x1="517" y1="231.9" x2="526" y2="234" stroke="#2f5a2c" stroke-width="1.2"/><circle cx="526" cy="234" r="1.5" fill="#2f5a2c"/><line x1="517" y1="231.9" x2="512" y2="240" stroke="#2f5a2c" stroke-width="1.2"/><circle cx="512" cy="240" r="1.2" fill="#2f5a2c"/><line x1="517" y1="231.9" x2="521" y2="241" stroke="#2f5a2c" stroke-width="1.2"/><circle cx="521" cy="241" r="1.2" fill="#2f5a2c"/><circle cx="525.3" cy="222.8" r="16.2" fill="none" stroke="#c83030" stroke-width="2.6"/><line x1="514" y1="211" x2="536.6" y2="234.6" stroke="#c83030" stroke-width="2.6"/><rect x="508.5" y="334" width="23.4" height="15.2" fill="#e5e5e8"/><rect x="508.5" y="330.5" width="23.4" height="3.9" fill="#efb52c"/><circle cx="519.6" cy="342" r="6.2" fill="#a6355a"/><text x="519.7" y="345.2" font-family="Liberation Sans" font-weight="bold" font-size="8.5" fill="#fff" text-anchor="middle">3</text><circle cx="625.4" cy="322.8" r="6.5" fill="none" stroke="#27353a" stroke-width="2.3"/><path d="M619.9 327.4 L621.2 328.9 L612.2 336.2 A1.2 1.2 0 0 1 610.2 334.3 Z" fill="#27353a"/></svg>
<div style="position:absolute;left:575.60px;top:370.60px;width:156.70px;height:36.80px;border:1px solid #dcdcdc;border-radius:6px;box-sizing:border-box;background:#fff;box-shadow:0 1px 2px rgba(0,0,0,0.08)"></div>
<div class="t" style="left:582.80px;top:387.00px;font-size:7.86px;font-weight:bold;color:#2a5aa0;transform:scaleX(0.8570);-webkit-text-stroke:0.2px #2a5aa0;">SUS</div>
<svg style="position:absolute;left:0;top:0" width="754" height="423" viewBox="0 0 754 423"><rect x="602.5" y="381.7" width="6.1" height="15.6" fill="#1f5fae"/><rect x="598" y="386.7" width="16.2" height="5.6" fill="#1f5fae"/><rect x="621" y="386.4" width="0.8" height="12.4" fill="#e2e2e2"/><defs><linearGradient id="fg" x1="0" y1="0" x2="0" y2="1"><stop offset="0" stop-color="#22803a"/><stop offset="0.5" stop-color="#8ab83a"/><stop offset="1" stop-color="#2a9040"/></linearGradient></defs><rect x="664.2" y="381.6" width="22.4" height="15.7" fill="url(#fg)"/><path d="M664.2 393 L673 383.6 L686.6 388.5 L686.6 392 L664.2 396 Z" fill="#e4d236" opacity="0.9"/><path d="M666.3 395 Q671 388.3 680 388.6 Q673 390.8 667.8 395.8 Z" fill="#2a5ea8"/><path d="M665.5 396.8 Q674 390.2 686.6 390 L686.6 391.5 Q675 392.2 668 397.2 Z" fill="#eef6dc"/></svg>
<div class="t" style="left:628.40px;top:390.00px;font-size:4.49px;font-weight:normal;color:#8a8a8a;transform:scaleX(0.8339);">MINISTÉRIO DA</div>
<div class="t" style="left:643.59px;top:394.00px;font-size:4.43px;font-weight:bold;color:#707070;transform:scaleX(0.8414);">SAÚDE</div>
<div class="t" style="left:688.69px;top:383.00px;font-size:3.33px;font-weight:bold;color:#2f5c3c;transform:scaleX(1.4375);">PÁTRIA AMADA</div>
<div class="t" style="left:688.16px;top:386.00px;font-size:9.86px;font-weight:normal;color:#3a4a44;transform:scaleX(1.0660);-webkit-text-stroke:0.4px #3a4a44;">BRASIL</div>
<div class="t" style="left:688.86px;top:396.00px;font-size:1.86px;font-weight:bold;color:#9aa59e;transform:scaleX(1.9415);">GOVERNO FEDERAL</div>
</body></html>
